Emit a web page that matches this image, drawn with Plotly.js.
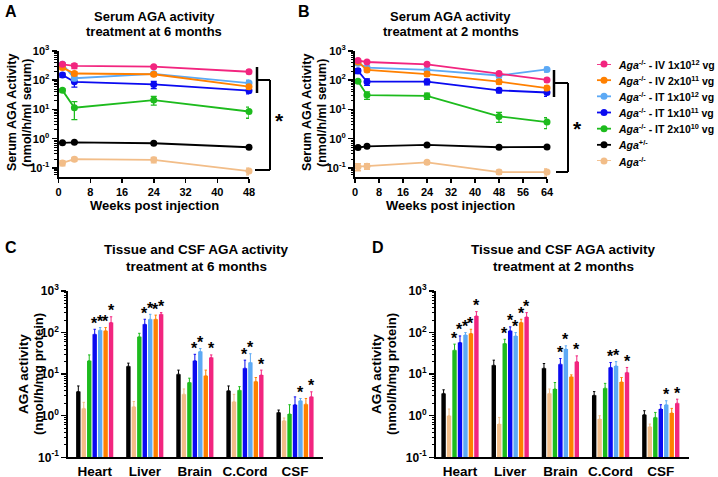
<!DOCTYPE html>
<html><head><meta charset="utf-8">
<script src="https://cdn.plot.ly/plotly-3.0.1.min.js"></script>
<style>html,body{margin:0;padding:0;background:#fff;}#chart{width:718px;height:477px;}</style>
</head><body><div id="chart"></div>
<script>
// ---------- DATA ----------
const weeksA = [1, 4, 24, 48];
const weeksB = [1, 4, 24, 48, 64];
const tissues = ['Heart', 'Liver', 'Brain', 'C.Cord', 'CSF'];
const logTickVals = [0.1, 1, 10, 100, 1000];
const logTickText = ['10<sup>-1</sup>', '10<sup>0</sup>', '10<sup>1</sup>', '10<sup>2</sup>', '10<sup>3</sup>'];

// legend / serum order
const groupLabels = [
  '<i>Aga</i><sup>-/-</sup> - IV 1x10<sup>12</sup> vg',
  '<i>Aga</i><sup>-/-</sup> - IV 2x10<sup>11</sup> vg',
  '<i>Aga</i><sup>-/-</sup> - IT 1x10<sup>12</sup> vg',
  '<i>Aga</i><sup>-/-</sup> - IT 1x10<sup>11</sup> vg',
  '<i>Aga</i><sup>-/-</sup> - IT 2x10<sup>10</sup> vg',
  '<i>Aga</i><sup>+/-</sup>',
  '<i>Aga</i><sup>-/-</sup>'
];
const groupColors = ['#F2257F', '#FF8000', '#5CA9F5', '#0A0AF0', '#1DBB1D', '#000000', '#F2BD88'];

// Panel A: serum, treatment at 6 months (mean, SD)
const aIV12 = [350, 310, 290, 195],   aIV12sd = [30, 60, 25, 25];
const aIV11 = [270, 170, 160, 60],    aIV11sd = [40, 25, 20, 10];
const aIT12 = [355, 117, 165, 80],    aIT12sd = [40, 20, 25, 20];
const aIT11 = [150, 88, 72, 44],      aIT11sd = [25, 30, 20, 10];
const aIT10 = [45, 11.5, 21, 8.5],    aIT10sd = [6, 7, 7, 3.5];
const aHet  = [0.72, 0.75, 0.70, 0.51], aHetsd = [0.04, 0.04, 0.04, 0.03];
const aKO   = [0.148, 0.20, 0.19, 0.078], aKOsd = [0.03, 0.03, 0.04, 0.02];

// Panel B: serum, treatment at 2 months
const bIV12 = [470, 420, 350, 170, 102], bIV12sd = [40, 40, 30, 20, 15];
const bIV11 = [420, 225, 163, 89, 54],   bIV11sd = [40, 30, 25, 15, 10];
const bIT12 = [380, 270, 225, 145, 235], bIT12sd = [50, 40, 30, 25, 45];
const bIT11 = [210, 89, 89, 45, 38],     bIT11sd = [40, 22, 20, 8, 10];
const bIT10 = [92, 31, 29, 5.8, 3.7],    bIT10sd = [10, 9, 7, 2.2, 1.5];
const bHet  = [0.50, 0.55, 0.61, 0.51, 0.52], bHetsd = [0.03, 0.03, 0.03, 0.03, 0.03];
const bKO   = [0.11, 0.115, 0.155, 0.072, 0.072], bKOsd = [0.03, 0.025, 0.02, 0.012, 0.02];

// Panel C: tissue, treatment at 6 months (bar order: het, ko, IT2e10, IT1e11, IT1e12, IV2e11, IV1e12)
const cHet  = [3.8, 15.5, 10, 4.0, 1.2],   cHetsd  = [1.4, 2.9, 2.5, 1.2, 0.17];
const cKO   = [1.5, 1.64, 3.3, 2.17, 0.76], cKOsd  = [0.6, 0.56, 1.1, 1.1, 0.12];
const cIT10 = [21, 79, 6.3, 4.1, 1.1],     cIT10sd = [8, 17, 1.7, 0.9, 0.74];
const cIT11 = [91, 158, 21, 13.9, 1.84],   cIT11sd = [29, 51, 9, 7.8, 1.0];
const cIT12 = [114, 209, 35, 19, 2.29],    cIT12sd = [18, 66, 6.4, 12, 0.31];
const cIV11 = [110, 209, 9.1, 6.7, 1.9],   cIV11sd = [22, 54, 3.4, 1.6, 0.7];
const cIV12 = [174, 275, 25, 9.5, 2.86],   cIV12sd = [66, 27, 4, 3, 0.9];
const cStars = [[0,0,0,0,0],[0,0,0,0,0],[0,0,0,0,0],[1,1,1,1,0],[1,1,1,1,1],[1,1,0,0,0],[1,1,1,1,1]];

// Panel D: tissue, treatment at 2 months
const dHet  = [3.44, 16.4, 13.9, 3.1, 1.06], dHetsd  = [0.76, 5.3, 4.1, 0.7, 0.26];
const dKO   = [1.0, 0.63, 3.44, 0.83, 0.54], dKOsd   = [0.45, 0.28, 0.96, 0.17, 0.09];
const dIT10 = [37.7, 54.5, 4.4, 4.6, 0.91],  dIT10sd = [15, 14.5, 1.9, 1.4, 0.29];
const dIT11 = [57.5, 110, 17.4, 14.5, 1.45], dIT11sd = [25.5, 27, 6.4, 4.5, 0.39];
const dIT12 = [88, 83, 40, 15.8, 1.84],      dIT12sd = [12, 17, 8, 4.2, 0.45];
const dIV11 = [95, 174, 8.6, 6.5, 1.16],     dIV11sd = [25, 35, 1.0, 1.8, 0.34];
const dIV12 = [251, 238, 20, 11, 2.0],       dIV12sd = [68, 64, 7.5, 3.5, 0.5];
const dStars = [[0,0,0,0,0],[0,0,0,0,0],[1,1,0,0,0],[1,1,1,1,0],[1,1,1,1,1],[1,1,0,0,0],[1,1,1,1,1]];

// ---------- BUILD ----------
const W = 718, H = 477;
const px = x => x / W;
const py = y => 1 - y / H;
const FONT = 'Liberation Sans, Arial, Helvetica, sans-serif';

const serumA = [[aIV12,aIV12sd],[aIV11,aIV11sd],[aIT12,aIT12sd],[aIT11,aIT11sd],[aIT10,aIT10sd],[aHet,aHetsd],[aKO,aKOsd]];
const serumB = [[bIV12,bIV12sd],[bIV11,bIV11sd],[bIT12,bIT12sd],[bIT11,bIT11sd],[bIT10,bIT10sd],[bHet,bHetsd],[bKO,bKOsd]];
const barOrder = [5, 6, 4, 3, 2, 1, 0]; // index into groupColors
const tissueC = [[cHet,cHetsd],[cKO,cKOsd],[cIT10,cIT10sd],[cIT11,cIT11sd],[cIT12,cIT12sd],[cIV11,cIV11sd],[cIV12,cIV12sd]];
const tissueD = [[dHet,dHetsd],[dKO,dKOsd],[dIT10,dIT10sd],[dIT11,dIT11sd],[dIT12,dIT12sd],[dIV11,dIV11sd],[dIV12,dIV12sd]];

const traces = [];
function addSerum(data, weeks, xa, ya) {
  for (let k = data.length - 1; k >= 0; k--) {
    const c = groupColors[k];
    traces.push({
      type: 'scatter', mode: 'lines+markers', x: weeks, y: data[k][0],
      xaxis: xa, yaxis: ya, cliponaxis: false,
      line: {color: c, width: 1.8}, marker: {color: c, size: 7},
      error_y: {type: 'data', array: data[k][1], color: c, thickness: 1.3, width: 3},
      hoverinfo: 'skip'
    });
  }
}
addSerum(serumA, weeksA, 'x', 'y');
addSerum(serumB, weeksB, 'x2', 'y2');

const slot = 0.109, bw = 0.088;
const annotations = [];
function addBars(data, stars, xa, ya) {
  data.forEach((d, j) => {
    const c = groupColors[barOrder[j]];
    const xs = tissues.map((t, i) => i + (j - 3) * slot);
    traces.push({
      type: 'bar', x: xs, y: d[0], width: bw, xaxis: xa, yaxis: ya,
      marker: {color: c, line: {width: 0}},
      error_y: {type: 'data', symmetric: false, array: d[1], arrayminus: d[1].map(() => 0),
                color: c, thickness: 1, width: 1.2},
      hoverinfo: 'skip'
    });
    stars[j].forEach((s, i) => {
      if (!s) return;
      annotations.push({
        xref: xa, yref: ya, x: xs[i], y: Math.log10(d[0][i] + d[1][i]),
        text: '*', showarrow: false, yanchor: 'middle', xanchor: 'center', yshift: 6,
        font: {family: FONT, size: 16, weight: 'bold', color: '#000'}
      });
    });
  });
}
addBars(tissueC, cStars, 'x3', 'y3');
addBars(tissueD, dStars, 'x4', 'y4');

// custom legend
groupLabels.forEach((lab, k) => {
  const c = groupColors[k];
  traces.push({type: 'scatter', mode: 'lines', x: [0, 1], y: [k, k], xaxis: 'x5', yaxis: 'y5',
    line: {color: c, width: 1.8}, hoverinfo: 'skip', cliponaxis: false});
  traces.push({type: 'scatter', mode: 'markers', x: [0.5], y: [k], xaxis: 'x5', yaxis: 'y5',
    marker: {color: c, size: 7}, hoverinfo: 'skip', cliponaxis: false});
  annotations.push({xref: 'x5', yref: 'y5', x: 1, y: k, xanchor: 'left', yanchor: 'middle', xshift: 5,
    text: lab, showarrow: false, font: {family: FONT, size: 10.5, weight: 'bold', color: '#000'}});
});

function txt(x, y, text, size, extra) {
  annotations.push(Object.assign({xref: 'paper', yref: 'paper', x: px(x), y: py(y), text: text,
    showarrow: false, xanchor: 'center', yanchor: 'middle',
    font: {family: FONT, size: size, weight: 'bold', color: '#000'}}, extra || {}));
}
// panel letters
txt(11, 12, 'A', 16); txt(304, 12, 'B', 16); txt(11, 248, 'C', 16); txt(378, 248, 'D', 16);
// titles
txt(154, 16, 'Serum AGA activity', 13); txt(154, 31, 'treatment at 6 months', 13);
txt(451, 16, 'Serum AGA activity', 13); txt(451, 31, 'treatment at 2 months', 13);
txt(196, 249, 'Tissue and CSF AGA activity', 13.5); txt(196, 266, 'treatment at 6 months', 13.5);
txt(563, 249, 'Tissue and CSF AGA activity', 13.5); txt(563, 266, 'treatment at 2 months', 13.5);
// axis titles
txt(12, 113, 'Serum AGA Activity', 12.5, {textangle: -90});
txt(27, 113, '(nmol/h/ml serum)', 12.5, {textangle: -90});
txt(307, 113, 'Serum AGA Activity', 12.5, {textangle: -90});
txt(322, 113, '(nmol/h/ml serum)', 12.5, {textangle: -90});
txt(154, 205, 'Weeks post injection', 13);
txt(451, 205, 'Weeks post injection', 13);
txt(23, 374, 'AGA activity', 13.5, {textangle: -90});
txt(38, 374, '(nmol/h/mg protein)', 13, {textangle: -90});
txt(376, 374, 'AGA activity', 13.5, {textangle: -90});
txt(391, 374, '(nmol/h/mg protein)', 13, {textangle: -90});
// bracket asterisks
txt(279, 121, '*', 21); txt(577, 129, '*', 21);

const shapes = [];
function seg(x0, y0, x1, y1, w) {
  shapes.push({type: 'line', xref: 'paper', yref: 'paper', x0: px(x0), y0: py(y0), x1: px(x1), y1: py(y1),
    line: {color: '#000', width: w || 2}});
}
seg(257, 67, 257, 93, 2.5); seg(257, 80, 270, 80); seg(270, 80, 270, 170); seg(255, 170, 270, 170);
seg(554, 70, 554, 97, 2.5); seg(554, 83, 568, 83); seg(568, 83, 568, 172); seg(556, 172, 568, 172);

const tickFont = {family: FONT, size: 11, weight: 'bold', color: '#000'};
function yLog(dom, rng, anchor, fs) {
  return {type: 'log', domain: dom, range: rng, anchor: anchor, showgrid: false, zeroline: false,
    showline: true, linewidth: 2, linecolor: '#000', ticks: 'outside', ticklen: 5, tickwidth: 1.5, tickcolor: '#000',
    tickmode: 'array', tickvals: logTickVals, ticktext: logTickText,
    tickfont: Object.assign({}, tickFont, {size: fs}),
    minor: {ticks: 'outside', ticklen: 2.5, tickwidth: 1, tickcolor: '#000', dtick: 'D1', showgrid: false},
    fixedrange: true};
}
function xLin(dom, rng, anchor) {
  return {domain: dom, range: rng, anchor: anchor, showgrid: false, zeroline: false, showline: true,
    linewidth: 2, linecolor: '#000', ticks: 'outside', ticklen: 4, tickwidth: 1.5, tickcolor: '#000',
    tick0: 0, dtick: 8, tickfont: tickFont, fixedrange: true};
}
function xCat(dom, rng, anchor) {
  return {domain: dom, range: rng, anchor: anchor, showgrid: false, zeroline: false, showline: true,
    linewidth: 2, linecolor: '#000', ticks: '', tickmode: 'array', tickvals: tissues.map((t, i) => i),
    ticktext: tissues, tickfont: {family: FONT, size: 13.5, weight: 'bold', color: '#000'}, fixedrange: true};
}

const layout = {
  width: W, height: H, margin: {l: 0, r: 0, t: 0, b: 0}, showlegend: false,
  paper_bgcolor: '#fff', plot_bgcolor: 'rgba(0,0,0,0)', barmode: 'overlay',
  xaxis:  xLin([px(58.5), px(249)], [0, 48], 'y'),
  yaxis:  yLog([py(176.7), py(51)], [-1.3, 3], 'x', 11),
  xaxis2: xLin([px(355), px(547)], [0, 64], 'y2'),
  yaxis2: yLog([py(176.7), py(51)], [-1.3, 3], 'x2', 11),
  xaxis3: xCat([px(68.3), px(323.3)], [-0.527, 4.565], 'y3'),
  yaxis3: yLog([py(457.3), py(291)], [-1, 3], 'x3', 12),
  xaxis4: xCat([px(436), px(689.3)], [-0.478, 4.568], 'y4'),
  yaxis4: yLog([py(457.3), py(291)], [-1, 3], 'x4', 12),
  xaxis5: {domain: [px(597), px(611)], range: [0, 1], anchor: 'y5', visible: false, fixedrange: true},
  yaxis5: {domain: [py(161), py(64)], range: [6, 0], anchor: 'x5', visible: false, fixedrange: true},
  annotations: annotations, shapes: shapes
};
Plotly.newPlot('chart', traces, layout, {staticPlot: true, displayModeBar: false});
</script></body></html>
